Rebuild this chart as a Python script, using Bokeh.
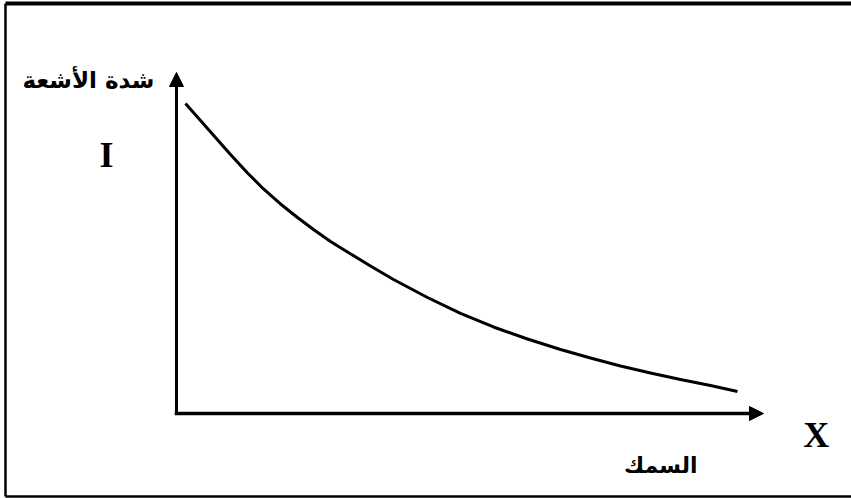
from bokeh.plotting import figure
from bokeh.models import Arrow, NormalHead, Label, BoxAnnotation
from bokeh.embed import file_html
from bokeh.resources import INLINE

# Curve: radiation intensity I versus thickness X (arbitrary units)
thickness = [0.153, 0.409, 0.664, 0.920, 1.210, 1.482, 1.772, 2.061, 2.334, 2.624,
             2.913, 3.305, 3.697, 4.276, 4.838, 5.400, 5.980, 6.542, 7.053, 7.564,
             8.075, 8.586, 9.097, 9.557]
intensity = [9.091, 8.592, 8.094, 7.595, 7.053, 6.584, 6.144, 5.748, 5.396, 5.044,
             4.736, 4.326, 3.930, 3.402, 2.933, 2.537, 2.185, 1.877, 1.628, 1.393,
             1.188, 0.997, 0.821, 0.645]

y_title = "شدة الأشعة"
x_title = "السمك"
y_symbol = "I"
x_symbol = "X"

# axis extents (data units)
x_axis_end = 10.0
y_axis_end = 10.0

W, H = 851, 498
p = figure(width=W, height=H, output_backend="svg", toolbar_location=None,
           x_range=(-2.998, -2.998 + W / 58.7), y_range=(-2.493, 12.111),
           min_border=0, min_border_left=0, min_border_right=0,
           min_border_top=0, min_border_bottom=0)
p.xaxis.visible = False
p.yaxis.visible = False
p.grid.visible = False
p.outline_line_color = None
p.outline_line_alpha = 0
p.background_fill_color = "white"
p.border_fill_color = "white"

# outer frame border (left, top, bottom), right side runs off the page
bl, bt, bb, br = -2.913, 12.02, -2.434, p.x_range.end + 2
p.line([bl, bl], [bb, bt], line_color="black", line_width=2.5)
p.line([bl, br], [bt, bt], line_color="black", line_width=4)
p.line([bl, br], [bb, bb], line_color="black", line_width=2.5)

# blank out the right edge of the frame
p.add_layout(BoxAnnotation(left=p.x_range.end - 0.1, right=p.x_range.end + 1,
                           bottom=bb + 0.08, top=bt - 0.08,
                           fill_color="white", fill_alpha=1.0,
                           line_color=None, level="overlay"))

# axes as arrows
p.add_layout(Arrow(end=NormalHead(size=14, fill_color="black", line_color="black"),
                   x_start=-0.03, y_start=0, x_end=x_axis_end, y_end=0,
                   line_color="black", line_width=3.5))
p.add_layout(Arrow(end=NormalHead(size=14, fill_color="black", line_color="black"),
                   x_start=0.0, y_start=0, x_end=0.0, y_end=y_axis_end,
                   line_color="black", line_width=3))

# curve
p.line(thickness, intensity, line_color="black", line_width=3, line_join="round")

# labels
p.add_layout(Label(x=-1.50, y=9.79, text=y_title, text_align="center",
                   text_baseline="middle", text_font="DejaVu Sans",
                   text_font_style="bold",
                   text_font_size="23px", text_color="black"))
p.add_layout(Label(x=8.25, y=-1.52, text=x_title, text_align="center",
                   text_baseline="middle", text_font="DejaVu Sans",
                   text_font_style="bold",
                   text_font_size="22px", text_color="black"))
p.add_layout(Label(x=-1.19, y=7.57, text=y_symbol, text_align="center",
                   text_baseline="middle", text_font="Liberation Serif",
                   text_font_style="bold", text_font_size="36px", text_color="black"))
p.add_layout(Label(x=10.90, y=-0.62, text=x_symbol, text_align="center",
                   text_baseline="middle", text_font="Liberation Serif",
                   text_font_style="bold", text_font_size="36px", text_color="black"))

open("out.html", "w").write(file_html(p, INLINE))
